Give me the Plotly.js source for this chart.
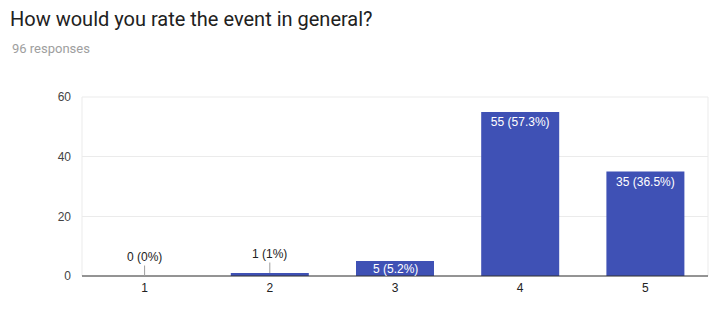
<!DOCTYPE html>
<html><head><meta charset="utf-8">
<script src="https://cdn.plot.ly/plotly-3.0.1.min.js"></script>
<style>html,body{margin:0;padding:0;background:#fff}#chart{width:716px;height:311px}</style>
</head><body><div id="chart"></div>
<script>
const categories = ['1','2','3','4','5'];
const counts = [0, 1, 5, 55, 35];
const labels = ['0 (0%)','1 (1%)','5 (5.2%)','55 (57.3%)','35 (36.5%)'];
const labelModes = ['above', 'above', 'insideSmall', 'inside', 'inside'];
const titleText = 'How would you rate the event in general?';
const subtitleText = '96 responses';
const labelFont = 'Arial, "Liberation Sans", sans-serif';

const trace = {
  type: 'bar', x: categories, y: counts,
  text: labels,
  textposition: labelModes.map(m => m === 'inside' ? 'inside' : 'none'),
  insidetextanchor: 'end',
  constraintext: 'none',
  textfont: {family: labelFont, size: 12, color: '#ffffff'},
  marker: {color: '#3f51b5'},
  hoverinfo: 'none'
};

const annotations = [{
  xref: 'paper', yref: 'paper', x: -72/626, y: (276-48)/179, xanchor: 'left', yanchor: 'middle',
  text: subtitleText, showarrow: false,
  font: {family: 'Roboto, Arial, sans-serif', size: 13, color: '#9e9e9e'}
}];
categories.forEach((c, i) => {
  if (labelModes[i] === 'above') annotations.push({
    x: i, y: counts[i], xref: 'x', yref: 'y', text: labels[i],
    showarrow: true, arrowhead: 0, arrowwidth: 1, arrowcolor: '#9e9e9e',
    ax: 0, ay: -19, standoff: 0,
    font: {family: labelFont, size: 12, color: '#222222'}
  });
  else if (labelModes[i] === 'insideSmall') annotations.push({
    x: i, y: counts[i], xref: 'x', yref: 'y', text: labels[i],
    showarrow: false, yanchor: 'top', yshift: 1,
    font: {family: labelFont, size: 12, color: '#ffffff'}
  });
});

const layout = {
  width: 716, height: 311,
  margin: {l: 82, r: 8, t: 97, b: 35},
  paper_bgcolor: '#ffffff', plot_bgcolor: '#ffffff',
  title: {text: titleText, x: 10/716, xanchor: 'left', xref: 'container',
          y: 1 - 19/311, yanchor: 'middle', yref: 'container',
          font: {family: 'Roboto, Arial, sans-serif', size: 20, color: '#212121'}},
  bargap: 0.377,
  showlegend: false,
  xaxis: {type: 'category', showgrid: false, showline: false, zeroline: false,
          ticks: '', ticklabelstandoff: 3,
          tickfont: {family: labelFont, size: 12, color: '#222222'},
          fixedrange: true},
  yaxis: {range: [0, 60], tickvals: [0, 20, 40, 60], showgrid: true, gridcolor: '#ebebeb',
          zeroline: false, showline: false, ticks: '', ticklabelstandoff: 10,
          tickfont: {family: labelFont, size: 12, color: '#444444'},
          fixedrange: true},
  shapes: [
    {type: 'rect', xref: 'paper', yref: 'paper', x0: 0, x1: 1, y0: 0, y1: 1,
     line: {color: '#ebebeb', width: 1}, layer: 'below'},
    {type: 'line', xref: 'paper', yref: 'paper', x0: 0, x1: 1, y0: 0, y1: 0,
     line: {color: '#333333', width: 1}, layer: 'above'}
  ],
  annotations: annotations
};
Plotly.newPlot('chart', [trace], layout, {displayModeBar: false, staticPlot: true});
</script></body></html>
